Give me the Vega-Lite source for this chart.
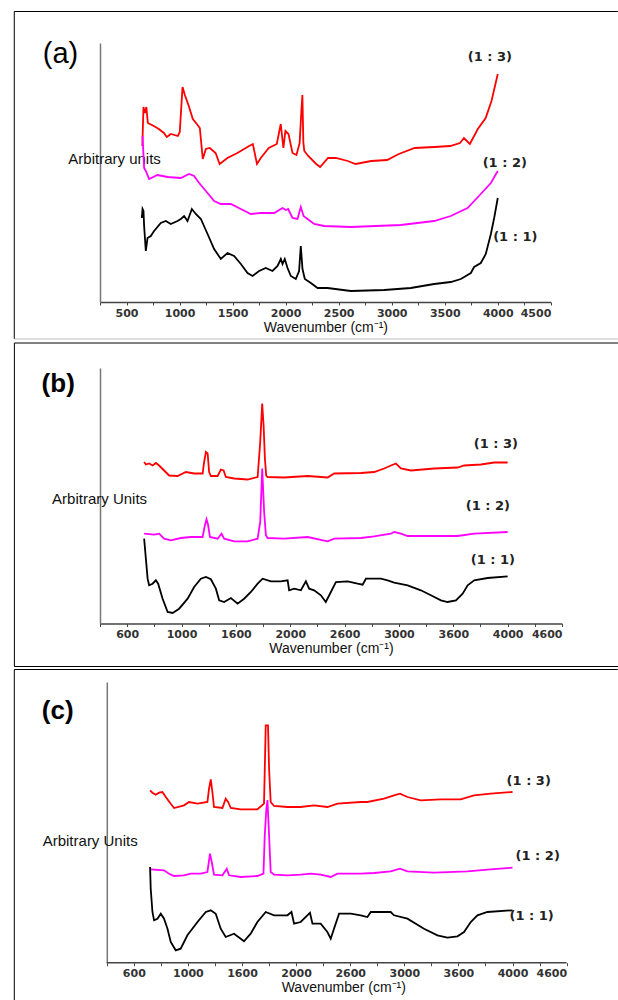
{
  "$schema": "https://vega.github.io/schema/vega-lite/v6.json",
  "padding": {"left": 13, "top": 10, "right": 0, "bottom": 0},
  "spacing": 2,
  "config": {"view": {"stroke": null}, "axis": {"grid": false}, "font": "Liberation Sans"},
  "datasets": {
    "a": [
      {"s":"1:3","w":649,"y":156},{"s":"1:3","w":660,"y":195},{"s":"1:3","w":673,"y":189},{"s":"1:3","w":687,"y":195},{"s":"1:3","w":701,"y":179},{"s":"1:3","w":757,"y":176},{"s":"1:3","w":805,"y":173},{"s":"1:3","w":852,"y":169},{"s":"1:3","w":880,"y":165},{"s":"1:3","w":918,"y":168},{"s":"1:3","w":984,"y":166},{"s":"1:3","w":1002,"y":170},{"s":"1:3","w":1028,"y":215},{"s":"1:3","w":1050,"y":207},{"s":"1:3","w":1087,"y":196},{"s":"1:3","w":1125,"y":183},{"s":"1:3","w":1163,"y":178},{"s":"1:3","w":1191,"y":174},{"s":"1:3","w":1219,"y":143},{"s":"1:3","w":1248,"y":153},{"s":"1:3","w":1285,"y":154},{"s":"1:3","w":1340,"y":149},{"s":"1:3","w":1378,"y":138},{"s":"1:3","w":1451,"y":144},{"s":"1:3","w":1545,"y":149},{"s":"1:3","w":1656,"y":156},{"s":"1:3","w":1691,"y":158},{"s":"1:3","w":1730,"y":138},{"s":"1:3","w":1766,"y":144},{"s":"1:3","w":1841,"y":154},{"s":"1:3","w":1917,"y":158},{"s":"1:3","w":1954,"y":178},{"s":"1:3","w":1979,"y":154},{"s":"1:3","w":1998,"y":171},{"s":"1:3","w":2027,"y":168},{"s":"1:3","w":2065,"y":149},{"s":"1:3","w":2102,"y":147},{"s":"1:3","w":2132,"y":159},{"s":"1:3","w":2148,"y":190},{"s":"1:3","w":2158,"y":207},{"s":"1:3","w":2167,"y":160},{"s":"1:3","w":2176,"y":151},{"s":"1:3","w":2213,"y":146},{"s":"1:3","w":2288,"y":138},{"s":"1:3","w":2325,"y":135},{"s":"1:3","w":2400,"y":144},{"s":"1:3","w":2473,"y":144},{"s":"1:3","w":2586,"y":141},{"s":"1:3","w":2659,"y":138},{"s":"1:3","w":2808,"y":141},{"s":"1:3","w":2957,"y":142},{"s":"1:3","w":3067,"y":148},{"s":"1:3","w":3217,"y":154},{"s":"1:3","w":3403,"y":155},{"s":"1:3","w":3551,"y":156},{"s":"1:3","w":3644,"y":159},{"s":"1:3","w":3681,"y":164},{"s":"1:3","w":3737,"y":158},{"s":"1:3","w":3812,"y":173},{"s":"1:3","w":3886,"y":184},{"s":"1:3","w":3941,"y":201},{"s":"1:3","w":4000,"y":228},
      {"s":"1:2","w":651,"y":166},{"s":"1:2","w":666,"y":134},{"s":"1:2","w":682,"y":131},{"s":"1:2","w":713,"y":123},{"s":"1:2","w":792,"y":127},{"s":"1:2","w":887,"y":125},{"s":"1:2","w":1012,"y":124},{"s":"1:2","w":1090,"y":128},{"s":"1:2","w":1137,"y":126},{"s":"1:2","w":1185,"y":119},{"s":"1:2","w":1264,"y":109},{"s":"1:2","w":1326,"y":101},{"s":"1:2","w":1389,"y":98},{"s":"1:2","w":1483,"y":98},{"s":"1:2","w":1578,"y":93},{"s":"1:2","w":1672,"y":88},{"s":"1:2","w":1766,"y":89},{"s":"1:2","w":1892,"y":89},{"s":"1:2","w":1971,"y":94},{"s":"1:2","w":2002,"y":92},{"s":"1:2","w":2024,"y":93},{"s":"1:2","w":2065,"y":84},{"s":"1:2","w":2112,"y":83},{"s":"1:2","w":2143,"y":95},{"s":"1:2","w":2169,"y":86},{"s":"1:2","w":2206,"y":83},{"s":"1:2","w":2269,"y":78},{"s":"1:2","w":2363,"y":76},{"s":"1:2","w":2615,"y":75},{"s":"1:2","w":3086,"y":77},{"s":"1:2","w":3400,"y":81},{"s":"1:2","w":3557,"y":86},{"s":"1:2","w":3715,"y":94},{"s":"1:2","w":3840,"y":108},{"s":"1:2","w":3935,"y":119},{"s":"1:2","w":4000,"y":131},
      {"s":"1:1","w":644,"y":84},{"s":"1:1","w":651,"y":93},{"s":"1:1","w":660,"y":91},{"s":"1:1","w":666,"y":76},{"s":"1:1","w":682,"y":51},{"s":"1:1","w":698,"y":64},{"s":"1:1","w":729,"y":66},{"s":"1:1","w":760,"y":71},{"s":"1:1","w":823,"y":79},{"s":"1:1","w":871,"y":81},{"s":"1:1","w":917,"y":78},{"s":"1:1","w":981,"y":81},{"s":"1:1","w":1012,"y":83},{"s":"1:1","w":1043,"y":86},{"s":"1:1","w":1075,"y":81},{"s":"1:1","w":1116,"y":93},{"s":"1:1","w":1153,"y":88},{"s":"1:1","w":1201,"y":83},{"s":"1:1","w":1264,"y":68},{"s":"1:1","w":1326,"y":53},{"s":"1:1","w":1389,"y":43},{"s":"1:1","w":1452,"y":49},{"s":"1:1","w":1514,"y":46},{"s":"1:1","w":1578,"y":38},{"s":"1:1","w":1641,"y":29},{"s":"1:1","w":1688,"y":26},{"s":"1:1","w":1750,"y":31},{"s":"1:1","w":1813,"y":34},{"s":"1:1","w":1876,"y":31},{"s":"1:1","w":1924,"y":36},{"s":"1:1","w":1955,"y":43},{"s":"1:1","w":1971,"y":38},{"s":"1:1","w":1992,"y":43},{"s":"1:1","w":2018,"y":34},{"s":"1:1","w":2049,"y":26},{"s":"1:1","w":2096,"y":23},{"s":"1:1","w":2127,"y":31},{"s":"1:1","w":2143,"y":56},{"s":"1:1","w":2159,"y":33},{"s":"1:1","w":2181,"y":23},{"s":"1:1","w":2238,"y":19},{"s":"1:1","w":2301,"y":14},{"s":"1:1","w":2395,"y":14},{"s":"1:1","w":2615,"y":11},{"s":"1:1","w":2929,"y":12},{"s":"1:1","w":3180,"y":14},{"s":"1:1","w":3400,"y":18},{"s":"1:1","w":3557,"y":20},{"s":"1:1","w":3652,"y":23},{"s":"1:1","w":3746,"y":29},{"s":"1:1","w":3777,"y":35},{"s":"1:1","w":3840,"y":39},{"s":"1:1","w":3887,"y":48},{"s":"1:1","w":3935,"y":68},{"s":"1:1","w":3966,"y":84},{"s":"1:1","w":4000,"y":104}
    ],
    "b": [
      {"s":"1:3","w":656,"y":161.5},{"s":"1:3","w":672,"y":159},{"s":"1:3","w":702,"y":160},{"s":"1:3","w":734,"y":158},{"s":"1:3","w":764,"y":160.5},{"s":"1:3","w":794,"y":158},{"s":"1:3","w":840,"y":153},{"s":"1:3","w":886,"y":148},{"s":"1:3","w":964,"y":147.5},{"s":"1:3","w":1040,"y":151.5},{"s":"1:3","w":1116,"y":150},{"s":"1:3","w":1194,"y":150},{"s":"1:3","w":1208,"y":161.5},{"s":"1:3","w":1224,"y":171.5},{"s":"1:3","w":1240,"y":170},{"s":"1:3","w":1254,"y":151.5},{"s":"1:3","w":1270,"y":147.5},{"s":"1:3","w":1332,"y":147.5},{"s":"1:3","w":1362,"y":154},{"s":"1:3","w":1387,"y":153},{"s":"1:3","w":1408,"y":146.5},{"s":"1:3","w":1484,"y":145},{"s":"1:3","w":1608,"y":144},{"s":"1:3","w":1700,"y":146.5},{"s":"1:3","w":1724,"y":181.5},{"s":"1:3","w":1742,"y":220},{"s":"1:3","w":1755,"y":198},{"s":"1:3","w":1767,"y":165},{"s":"1:3","w":1779,"y":148},{"s":"1:3","w":1792,"y":146.5},{"s":"1:3","w":1944,"y":146},{"s":"1:3","w":2160,"y":147.5},{"s":"1:3","w":2344,"y":146},{"s":"1:3","w":2404,"y":150},{"s":"1:3","w":2650,"y":150.5},{"s":"1:3","w":2772,"y":151.5},{"s":"1:3","w":2864,"y":155},{"s":"1:3","w":2926,"y":158},{"s":"1:3","w":2972,"y":160},{"s":"1:3","w":3018,"y":155},{"s":"1:3","w":3110,"y":153},{"s":"1:3","w":3324,"y":155},{"s":"1:3","w":3540,"y":156},{"s":"1:3","w":3600,"y":158},{"s":"1:3","w":3754,"y":159},{"s":"1:3","w":3876,"y":161},{"s":"1:3","w":4000,"y":161},
      {"s":"1:2","w":656,"y":89.8},{"s":"1:2","w":748,"y":88.8},{"s":"1:2","w":794,"y":89.8},{"s":"1:2","w":840,"y":84.8},{"s":"1:2","w":902,"y":83.2},{"s":"1:2","w":994,"y":85.5},{"s":"1:2","w":1086,"y":86.5},{"s":"1:2","w":1194,"y":86.5},{"s":"1:2","w":1215,"y":98.2},{"s":"1:2","w":1230,"y":104.2},{"s":"1:2","w":1245,"y":98.2},{"s":"1:2","w":1261,"y":86.5},{"s":"1:2","w":1332,"y":84.8},{"s":"1:2","w":1368,"y":89.8},{"s":"1:2","w":1392,"y":84.8},{"s":"1:2","w":1484,"y":82.2},{"s":"1:2","w":1608,"y":82.2},{"s":"1:2","w":1700,"y":84.8},{"s":"1:2","w":1724,"y":101.5},{"s":"1:2","w":1742,"y":155},{"s":"1:2","w":1760,"y":111.5},{"s":"1:2","w":1776,"y":88.2},{"s":"1:2","w":1792,"y":85.5},{"s":"1:2","w":1944,"y":84.8},{"s":"1:2","w":2160,"y":86.5},{"s":"1:2","w":2344,"y":82.2},{"s":"1:2","w":2404,"y":84.8},{"s":"1:2","w":2650,"y":85.5},{"s":"1:2","w":2772,"y":87.2},{"s":"1:2","w":2926,"y":89.8},{"s":"1:2","w":2956,"y":91.5},{"s":"1:2","w":3018,"y":89.8},{"s":"1:2","w":3080,"y":87.5},{"s":"1:2","w":3386,"y":87.5},{"s":"1:2","w":3540,"y":87.5},{"s":"1:2","w":3692,"y":89.8},{"s":"1:2","w":4000,"y":91.5},
      {"s":"1:1","w":656,"y":84.8},{"s":"1:1","w":672,"y":64.8},{"s":"1:1","w":688,"y":44.8},{"s":"1:1","w":702,"y":38.2},{"s":"1:1","w":734,"y":39.8},{"s":"1:1","w":764,"y":43.2},{"s":"1:1","w":785,"y":39.8},{"s":"1:1","w":826,"y":24.8},{"s":"1:1","w":872,"y":11.5},{"s":"1:1","w":918,"y":10.5},{"s":"1:1","w":978,"y":14.8},{"s":"1:1","w":1056,"y":24.8},{"s":"1:1","w":1116,"y":36.5},{"s":"1:1","w":1178,"y":44.8},{"s":"1:1","w":1224,"y":46.5},{"s":"1:1","w":1270,"y":44.2},{"s":"1:1","w":1316,"y":34.8},{"s":"1:1","w":1346,"y":23.2},{"s":"1:1","w":1392,"y":21.5},{"s":"1:1","w":1454,"y":25.5},{"s":"1:1","w":1516,"y":19.8},{"s":"1:1","w":1576,"y":24.8},{"s":"1:1","w":1638,"y":31.5},{"s":"1:1","w":1700,"y":39.8},{"s":"1:1","w":1746,"y":44.8},{"s":"1:1","w":1822,"y":42.2},{"s":"1:1","w":1914,"y":42.2},{"s":"1:1","w":1976,"y":43.2},{"s":"1:1","w":1990,"y":33.2},{"s":"1:1","w":2036,"y":34.8},{"s":"1:1","w":2098,"y":33.2},{"s":"1:1","w":2144,"y":42.2},{"s":"1:1","w":2174,"y":34.8},{"s":"1:1","w":2220,"y":33.2},{"s":"1:1","w":2282,"y":28.2},{"s":"1:1","w":2327,"y":21.5},{"s":"1:1","w":2374,"y":31.5},{"s":"1:1","w":2420,"y":41.5},{"s":"1:1","w":2528,"y":42.2},{"s":"1:1","w":2620,"y":39.8},{"s":"1:1","w":2666,"y":38.8},{"s":"1:1","w":2696,"y":44.8},{"s":"1:1","w":2834,"y":44.8},{"s":"1:1","w":2896,"y":43.2},{"s":"1:1","w":2956,"y":40.8},{"s":"1:1","w":3080,"y":38.2},{"s":"1:1","w":3202,"y":33.2},{"s":"1:1","w":3294,"y":28.2},{"s":"1:1","w":3386,"y":23.2},{"s":"1:1","w":3448,"y":21.5},{"s":"1:1","w":3524,"y":23.2},{"s":"1:1","w":3586,"y":29.8},{"s":"1:1","w":3632,"y":38.2},{"s":"1:1","w":3692,"y":43.2},{"s":"1:1","w":3816,"y":45.5},{"s":"1:1","w":4000,"y":47.2}
    ],
    "c": [
      {"s":"1:3","w":650,"y":172.4},{"s":"1:3","w":672,"y":170},{"s":"1:3","w":702,"y":168},{"s":"1:3","w":733,"y":170},{"s":"1:3","w":764,"y":170.7},{"s":"1:3","w":795,"y":165.7},{"s":"1:3","w":841,"y":159},{"s":"1:3","w":872,"y":154.7},{"s":"1:3","w":964,"y":157.4},{"s":"1:3","w":1010,"y":160.7},{"s":"1:3","w":1088,"y":159},{"s":"1:3","w":1180,"y":160.7},{"s":"1:3","w":1195,"y":174},{"s":"1:3","w":1211,"y":183.4},{"s":"1:3","w":1226,"y":170.7},{"s":"1:3","w":1241,"y":155.7},{"s":"1:3","w":1319,"y":154.7},{"s":"1:3","w":1349,"y":164},{"s":"1:3","w":1371,"y":160.7},{"s":"1:3","w":1396,"y":154.7},{"s":"1:3","w":1488,"y":153.4},{"s":"1:3","w":1642,"y":153.4},{"s":"1:3","w":1703,"y":159},{"s":"1:3","w":1710,"y":192},{"s":"1:3","w":1719,"y":237.4},{"s":"1:3","w":1740,"y":237.4},{"s":"1:3","w":1750,"y":194},{"s":"1:3","w":1765,"y":160.7},{"s":"1:3","w":1796,"y":156.7},{"s":"1:3","w":1920,"y":155.7},{"s":"1:3","w":2042,"y":155.7},{"s":"1:3","w":2165,"y":157.4},{"s":"1:3","w":2289,"y":155.7},{"s":"1:3","w":2382,"y":159},{"s":"1:3","w":2597,"y":160.7},{"s":"1:3","w":2659,"y":160.7},{"s":"1:3","w":2812,"y":164},{"s":"1:3","w":2905,"y":167.4},{"s":"1:3","w":2960,"y":169},{"s":"1:3","w":3029,"y":165.7},{"s":"1:3","w":3152,"y":162.4},{"s":"1:3","w":3336,"y":163.4},{"s":"1:3","w":3521,"y":163.4},{"s":"1:3","w":3644,"y":167.4},{"s":"1:3","w":3798,"y":169},{"s":"1:3","w":4000,"y":170.7},
      {"s":"1:2","w":656,"y":93.4},{"s":"1:2","w":779,"y":92.4},{"s":"1:2","w":825,"y":89},{"s":"1:2","w":872,"y":86.7},{"s":"1:2","w":964,"y":87.4},{"s":"1:2","w":1026,"y":89},{"s":"1:2","w":1118,"y":89},{"s":"1:2","w":1180,"y":90.7},{"s":"1:2","w":1204,"y":109},{"s":"1:2","w":1220,"y":100.7},{"s":"1:2","w":1241,"y":88},{"s":"1:2","w":1319,"y":87.4},{"s":"1:2","w":1359,"y":94},{"s":"1:2","w":1380,"y":87.4},{"s":"1:2","w":1488,"y":85.7},{"s":"1:2","w":1642,"y":86.7},{"s":"1:2","w":1698,"y":89},{"s":"1:2","w":1710,"y":127.4},{"s":"1:2","w":1725,"y":154},{"s":"1:2","w":1735,"y":162.7},{"s":"1:2","w":1750,"y":127.4},{"s":"1:2","w":1765,"y":90.7},{"s":"1:2","w":1796,"y":88},{"s":"1:2","w":1920,"y":87.4},{"s":"1:2","w":2042,"y":88},{"s":"1:2","w":2135,"y":89},{"s":"1:2","w":2227,"y":88},{"s":"1:2","w":2320,"y":85.7},{"s":"1:2","w":2382,"y":89},{"s":"1:2","w":2597,"y":89},{"s":"1:2","w":2720,"y":89.7},{"s":"1:2","w":2874,"y":91.4},{"s":"1:2","w":2960,"y":94},{"s":"1:2","w":3029,"y":91.4},{"s":"1:2","w":3274,"y":90},{"s":"1:2","w":3583,"y":91.4},{"s":"1:2","w":3798,"y":93.4},{"s":"1:2","w":4000,"y":95},
      {"s":"1:1","w":650,"y":95.7},{"s":"1:1","w":656,"y":74},{"s":"1:1","w":672,"y":50.7},{"s":"1:1","w":687,"y":42.4},{"s":"1:1","w":718,"y":44},{"s":"1:1","w":749,"y":49},{"s":"1:1","w":779,"y":44},{"s":"1:1","w":811,"y":34},{"s":"1:1","w":841,"y":20.7},{"s":"1:1","w":887,"y":12.4},{"s":"1:1","w":933,"y":14},{"s":"1:1","w":995,"y":27.4},{"s":"1:1","w":1088,"y":40.7},{"s":"1:1","w":1165,"y":50.7},{"s":"1:1","w":1211,"y":52.4},{"s":"1:1","w":1257,"y":49},{"s":"1:1","w":1303,"y":34},{"s":"1:1","w":1349,"y":25.7},{"s":"1:1","w":1426,"y":29},{"s":"1:1","w":1488,"y":24},{"s":"1:1","w":1518,"y":21.4},{"s":"1:1","w":1580,"y":29},{"s":"1:1","w":1642,"y":40.7},{"s":"1:1","w":1719,"y":50.7},{"s":"1:1","w":1796,"y":47.4},{"s":"1:1","w":1920,"y":47.4},{"s":"1:1","w":1957,"y":50.7},{"s":"1:1","w":1981,"y":39},{"s":"1:1","w":2042,"y":40.7},{"s":"1:1","w":2104,"y":47.4},{"s":"1:1","w":2128,"y":50},{"s":"1:1","w":2151,"y":39},{"s":"1:1","w":2227,"y":39},{"s":"1:1","w":2289,"y":30.7},{"s":"1:1","w":2320,"y":24},{"s":"1:1","w":2350,"y":34},{"s":"1:1","w":2397,"y":49},{"s":"1:1","w":2505,"y":49},{"s":"1:1","w":2597,"y":47.4},{"s":"1:1","w":2659,"y":45.7},{"s":"1:1","w":2690,"y":50.7},{"s":"1:1","w":2874,"y":50.7},{"s":"1:1","w":2905,"y":47.4},{"s":"1:1","w":3029,"y":44},{"s":"1:1","w":3182,"y":34},{"s":"1:1","w":3306,"y":27.4},{"s":"1:1","w":3398,"y":25},{"s":"1:1","w":3491,"y":26.4},{"s":"1:1","w":3552,"y":30.7},{"s":"1:1","w":3614,"y":40.7},{"s":"1:1","w":3676,"y":47.4},{"s":"1:1","w":3768,"y":50.7},{"s":"1:1","w":4000,"y":52.4}
    ]
  },
  "vconcat": [
    {
      "width": 450.8,
      "height": 259,
      "resolve": {"scale": {"x": "independent", "y": "independent"}},
      "layer": [
        {
          "data": {"name": "a"},
          "mark": {"type": "line", "strokeWidth": 1.8},
          "encoding": {
            "x": {"field": "w", "type": "quantitative", "scale": {"domain": [250, 4500], "nice": false, "zero": false},
              "axis": {"title": "Wavenumber (cm⁻¹)", "values": [250,500,750,1000,1250,1500,1750,2000,2250,2500,2750,3000,3250,3500,3750,4000,4250,4500],
                "format": "d", "labelExpr": "datum.value % 500 ? '' : datum.label", "labelOverlap": false,
                "labelFont": "DejaVu Sans", "labelFontWeight": "bold", "labelFontSize": 11, "labelColor": "#333", "labelPadding": 2,
                "tickSize": 3, "tickColor": "#444", "domainColor": "#444", "domainWidth": 1.5,
                "titleFont": "Liberation Sans", "titleFontSize": 14, "titleFontWeight": "normal", "titleColor": "#111", "titlePadding": 2}},
            "y": {"field": "y", "type": "quantitative", "scale": {"domain": [0, 259], "nice": false, "zero": false},
              "axis": {"title": "Arbitrary units", "ticks": false, "labels": false, "domainColor": "#777", "domainWidth": 1.5,
                "titleAngle": 0, "titleAlign": "left", "titleBaseline": "alphabetic", "titleX": -32.2, "titleY": 120,
                "titleFont": "Liberation Sans", "titleFontSize": 15, "titleFontWeight": "normal", "titleColor": "#111"}},
            "color": {"field": "s", "type": "nominal", "scale": {"domain": ["1:3", "1:2", "1:1"], "range": ["#ff0000", "#ff00ff", "#000000"]}, "legend": null}
          }
        },
        {
          "data": {"values": [{}]},
          "encoding": {
            "x": {"datum": 0, "type": "quantitative", "scale": {"domain": [250, 4500], "nice": false, "zero": false}, "axis": null},
            "y": {"datum": 0, "type": "quantitative", "scale": {"domain": [0, 259], "nice": false, "zero": false}, "axis": null}
          },
          "layer": [
            {"mark": {"type": "rule", "color": "#000", "strokeWidth": 1}, "encoding": {"x": {"datum": -558}, "y": {"datum": 290.5}, "y2": {"datum": -37}}},
            {"mark": {"type": "rule", "color": "#000", "strokeWidth": 1}, "encoding": {"x": {"datum": -558}, "x2": {"datum": 5132}, "y": {"datum": 290.5}}},
            {"mark": {"type": "rule", "color": "#bbbbbb", "strokeWidth": 1}, "encoding": {"x": {"datum": -558}, "x2": {"datum": 5132}, "y": {"datum": -37}}},
            {"mark": {"type": "text", "text": "(a)", "font": "Liberation Sans", "fontSize": 29, "align": "left", "baseline": "alphabetic", "color": "#000"}, "encoding": {"x": {"datum": -289}, "y": {"datum": 239}}},
            {"mark": {"type": "text", "text": "(1 : 3)", "font": "DejaVu Sans", "fontWeight": "bold", "fontSize": 13, "align": "center", "baseline": "middle", "color": "#222"}, "encoding": {"x": {"datum": 3925}, "y": {"datum": 245.3}}},
            {"mark": {"type": "text", "text": "(1 : 2)", "font": "DejaVu Sans", "fontWeight": "bold", "fontSize": 13, "align": "center", "baseline": "middle", "color": "#222"}, "encoding": {"x": {"datum": 4066}, "y": {"datum": 138.7}}},
            {"mark": {"type": "text", "text": "(1 : 1)", "font": "DejaVu Sans", "fontWeight": "bold", "fontSize": 13, "align": "center", "baseline": "middle", "color": "#222"}, "encoding": {"x": {"datum": 4165}, "y": {"datum": 65.5}}}
          ]
        }
      ]
    },
    {
      "width": 462,
      "height": 255.5,
      "resolve": {"scale": {"x": "independent", "y": "independent"}},
      "layer": [
        {
          "data": {"name": "b"},
          "mark": {"type": "line", "strokeWidth": 1.8},
          "encoding": {
            "x": {"field": "w", "type": "quantitative", "scale": {"domain": [250, 4500], "nice": false, "zero": false},
              "axis": {"title": "Wavenumber (cm⁻¹)", "values": [250,500,750,1000,1250,1500,1750,2000,2250,2500,2750,3000,3250,3500,3750,4000,4250,4500],
                "format": "d", "labelExpr": "datum.value % 500 ? '' : replace(datum.label, '5', '6')", "labelOverlap": false,
                "labelFont": "DejaVu Sans", "labelFontWeight": "bold", "labelFontSize": 11, "labelColor": "#333", "labelPadding": 2,
                "tickSize": 3, "tickColor": "#444", "domainColor": "#444", "domainWidth": 1.5,
                "titleFont": "Liberation Sans", "titleFontSize": 14, "titleFontWeight": "normal", "titleColor": "#111", "titlePadding": 2}},
            "y": {"field": "y", "type": "quantitative", "scale": {"domain": [0, 255.5], "nice": false, "zero": false},
              "axis": {"title": "Arbitrary Units", "ticks": false, "labels": false, "domainColor": "#777", "domainWidth": 1.5,
                "titleAngle": 0, "titleAlign": "left", "titleBaseline": "alphabetic", "titleX": -48.4, "titleY": 135.7,
                "titleFont": "Liberation Sans", "titleFontSize": 15, "titleFontWeight": "normal", "titleColor": "#111"}},
            "color": {"field": "s", "type": "nominal", "scale": {"domain": ["1:3", "1:2", "1:1"], "range": ["#ff0000", "#ff00ff", "#000000"]}, "legend": null}
          }
        },
        {
          "data": {"values": [{}]},
          "encoding": {
            "x": {"datum": 0, "type": "quantitative", "scale": {"domain": [250, 4500], "nice": false, "zero": false}, "axis": null},
            "y": {"datum": 0, "type": "quantitative", "scale": {"domain": [0, 255.5], "nice": false, "zero": false}, "axis": null}
          },
          "layer": [
            {"mark": {"type": "rule", "color": "#000", "strokeWidth": 1}, "encoding": {"x": {"datum": -537.5}, "y": {"datum": 280.5}, "y2": {"datum": -43}}},
            {"mark": {"type": "rule", "color": "#000", "strokeWidth": 1}, "encoding": {"x": {"datum": -537.5}, "x2": {"datum": 5015}, "y": {"datum": 280.5}}},
            {"mark": {"type": "rule", "color": "#000", "strokeWidth": 1}, "encoding": {"x": {"datum": -537.5}, "x2": {"datum": 5015}, "y": {"datum": -43}}},
            {"mark": {"type": "text", "text": "(b)", "font": "Liberation Sans", "fontWeight": "bold", "fontSize": 26, "align": "left", "baseline": "alphabetic", "color": "#000"}, "encoding": {"x": {"datum": -287}, "y": {"datum": 232}}},
            {"mark": {"type": "text", "text": "(1 : 3)", "font": "DejaVu Sans", "fontWeight": "bold", "fontSize": 13, "align": "center", "baseline": "middle", "color": "#222"}, "encoding": {"x": {"datum": 3892}, "y": {"datum": 179.8}}},
            {"mark": {"type": "text", "text": "(1 : 2)", "font": "DejaVu Sans", "fontWeight": "bold", "fontSize": 13, "align": "center", "baseline": "middle", "color": "#222"}, "encoding": {"x": {"datum": 3818}, "y": {"datum": 117.2}}},
            {"mark": {"type": "text", "text": "(1 : 1)", "font": "DejaVu Sans", "fontWeight": "bold", "fontSize": 13, "align": "center", "baseline": "middle", "color": "#222"}, "encoding": {"x": {"datum": 3864}, "y": {"datum": 63.2}}}
          ]
        }
      ]
    },
    {
      "width": 466.6,
      "height": 280.7,
      "resolve": {"scale": {"x": "independent", "y": "independent"}},
      "layer": [
        {
          "data": {"name": "c"},
          "mark": {"type": "line", "strokeWidth": 1.8},
          "encoding": {
            "x": {"field": "w", "type": "quantitative", "scale": {"domain": [187.2, 4500], "nice": false, "zero": false},
              "axis": {"title": "Wavenumber (cm⁻¹)", "values": [250,500,750,1000,1250,1500,1750,2000,2250,2500,2750,3000,3250,3500,3750,4000,4250,4500],
                "format": "d", "labelExpr": "datum.value % 500 ? '' : replace(datum.label, '5', '6')", "labelOverlap": false,
                "labelFont": "DejaVu Sans", "labelFontWeight": "bold", "labelFontSize": 11, "labelColor": "#333", "labelPadding": 2,
                "domain": false, "tickSize": 3, "tickColor": "#444",
                "titleFont": "Liberation Sans", "titleFontSize": 14, "titleFontWeight": "normal", "titleColor": "#111", "titlePadding": 2, "titleX": 243.3}},
            "y": {"field": "y", "type": "quantitative", "scale": {"domain": [0, 280.7], "nice": false, "zero": false},
              "axis": {"title": "Arbitrary Units", "offset": -6.8, "ticks": false, "labels": false, "domainColor": "#777", "domainWidth": 1.5,
                "titleAngle": 0, "titleAlign": "left", "titleBaseline": "alphabetic", "titleX": -64.6, "titleY": 163,
                "titleFont": "Liberation Sans", "titleFontSize": 15, "titleFontWeight": "normal", "titleColor": "#111"}},
            "color": {"field": "s", "type": "nominal", "scale": {"domain": ["1:3", "1:2", "1:1"], "range": ["#ff0000", "#ff00ff", "#000000"]}, "legend": null}
          }
        },
        {
          "data": {"values": [{}]},
          "encoding": {
            "x": {"datum": 0, "type": "quantitative", "scale": {"domain": [187.2, 4500], "nice": false, "zero": false}, "axis": null},
            "y": {"datum": 0, "type": "quantitative", "scale": {"domain": [0, 280.7], "nice": false, "zero": false}, "axis": null}
          },
          "layer": [
            {"mark": {"type": "rule", "color": "#444", "strokeWidth": 1.5}, "encoding": {"x": {"datum": 250}, "x2": {"datum": 4500}, "y": {"datum": 0}}},
            {"mark": {"type": "rule", "color": "#000", "strokeWidth": 1}, "encoding": {"x": {"datum": -604.8}, "y": {"datum": 293.2}, "y2": {"datum": -37.3}}},
            {"mark": {"type": "rule", "color": "#000", "strokeWidth": 1}, "encoding": {"x": {"datum": -604.8}, "x2": {"datum": 4972}, "y": {"datum": 293.2}}},
            {"mark": {"type": "text", "text": "(c)", "font": "Liberation Sans", "fontWeight": "bold", "fontSize": 26, "align": "left", "baseline": "alphabetic", "color": "#000"}, "encoding": {"x": {"datum": -351}, "y": {"datum": 244.2}}},
            {"mark": {"type": "text", "text": "(1 : 3)", "font": "DejaVu Sans", "fontWeight": "bold", "fontSize": 13, "align": "center", "baseline": "middle", "color": "#222"}, "encoding": {"x": {"datum": 4150}, "y": {"datum": 181.4}}},
            {"mark": {"type": "text", "text": "(1 : 2)", "font": "DejaVu Sans", "fontWeight": "bold", "fontSize": 13, "align": "center", "baseline": "middle", "color": "#222"}, "encoding": {"x": {"datum": 4233}, "y": {"datum": 106.7}}},
            {"mark": {"type": "text", "text": "(1 : 1)", "font": "DejaVu Sans", "fontWeight": "bold", "fontSize": 13, "align": "center", "baseline": "middle", "color": "#222"}, "encoding": {"x": {"datum": 4177}, "y": {"datum": 46.7}}}
          ]
        }
      ]
    }
  ]
}
